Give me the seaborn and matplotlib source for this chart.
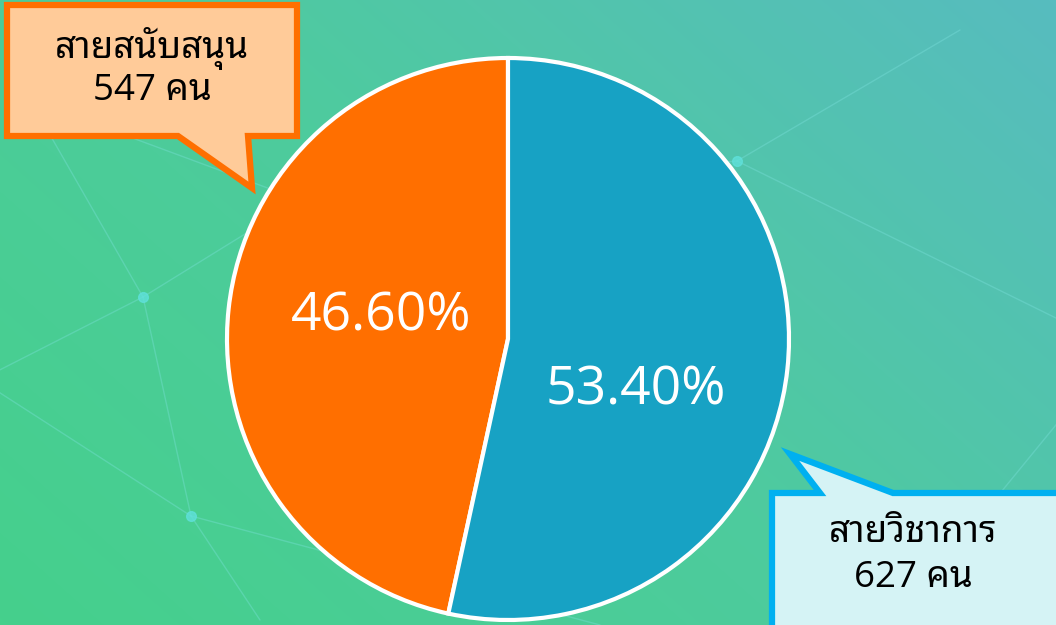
import numpy as np
import matplotlib
matplotlib.use("Agg")
import matplotlib.pyplot as plt
import seaborn as sns
from matplotlib import font_manager
from matplotlib.ft2font import FT2Font
from matplotlib.patches import Polygon
from matplotlib.colors import LinearSegmentedColormap

# ---- data ----
categories = ["สายสนับสนุน", "สายวิชาการ"]
counts = [547, 627]
pct_labels = ["46.60%", "53.40%"]
count_labels = ["547 คน", "627 คน"]
colors = ["#FF6F00", "#17A2C4"]

sns.set_theme(style="white")

# find a font with Thai glyphs
thai_family = None
for f in font_manager.fontManager.ttflist:
    try:
        cm = FT2Font(f.fname).get_charmap()
        if 0x0E2A in cm and 0x0E19 in cm:
            thai_family = f.name
            if "Noto" in f.name:
                break
    except Exception:
        pass
fams = ["Open Sans"] + ([thai_family] if thai_family else []) + ["DejaVu Sans"]
plt.rcParams["font.family"] = fams

W, H = 1056, 625
fig = plt.figure(figsize=(W / 100, H / 100), dpi=100)

# background gradient
bg = fig.add_axes([0, 0, 1, 1])
bg.set_xlim(0, W)
bg.set_ylim(H, 0)
bg.axis("off")
yy, xx = np.mgrid[0:H, 0:W]
t = (xx / W * 0.6 + (H - yy) / H * 0.4)
cmap = LinearSegmentedColormap.from_list("bg", ["#45D08C", "#4ECB9E", "#57BCBF"])
bg.imshow(t, cmap=cmap, extent=[0, W, H, 0], aspect="auto", zorder=0)

# faint network lines (decoration)
nodes = [(143, 297), (191, 516), (737, 161), (-20, 380), (30, 100), (260, 620),
         (300, 200), (1060, 320), (960, 30), (600, 625), (880, 640), (1060, 420)]
edges = [(0, 1), (0, 3), (0, 4), (0, 6), (1, 5), (1, 3), (2, 7), (2, 8), (2, 6),
         (1, 9), (10, 11), (4, 6)]
for a, b in edges:
    bg.plot([nodes[a][0], nodes[b][0]], [nodes[a][1], nodes[b][1]],
            color="#7FE3E0", lw=1.0, alpha=0.35, zorder=1)
for n in nodes[:3]:
    bg.plot(n[0], n[1], "o", ms=7, color="#5FE0DA", alpha=0.8, zorder=1)

# pie
cx, cy, r = 508, 339, 281
ax = fig.add_axes([(cx - r) / W, (H - cy - r) / H, 2 * r / W, 2 * r / H])
ax.pie(counts, colors=colors, startangle=90, counterclock=True,
       wedgeprops=dict(edgecolor="white", linewidth=3))
ax.set_xlim(-1, 1)
ax.set_ylim(-1, 1)
ax.set_aspect("equal")
ax.axis("off")

# overlay for labels/callouts
ov = fig.add_axes([0, 0, 1, 1])
ov.set_xlim(0, W)
ov.set_ylim(H, 0)
ov.axis("off")
ov.patch.set_alpha(0)

ov.text(381, 317, pct_labels[0], color="white", fontsize=38.5, ha="center", va="center")
ov.text(636, 391, pct_labels[1], color="white", fontsize=38.5, ha="center", va="center")

# orange callout
p1 = [(7, 5), (297, 5), (297, 136), (248, 136), (252, 188), (178, 136), (7, 136)]
ov.add_patch(Polygon(p1, closed=True, facecolor="#FFCB99", edgecolor="#FF6F00",
                     linewidth=4.5, joinstyle="miter"))
ov.text(152, 48, categories[0], fontsize=26.5, ha="center", va="center", color="black")
ov.text(152, 91, count_labels[0], fontsize=26.5, ha="center", va="center", color="black")

# blue callout
p2 = [(772, 493), (820, 493), (790, 454), (893, 493), (1062, 493), (1062, 630), (772, 630)]
ov.add_patch(Polygon(p2, closed=True, facecolor="#D5F3F5", edgecolor="#00B0F0",
                     linewidth=4.5, joinstyle="miter"))
ov.text(913, 533, categories[1], fontsize=26.5, ha="center", va="center", color="black")
ov.text(913, 578, count_labels[1], fontsize=26.5, ha="center", va="center", color="black")

fig.savefig("out.png", dpi=100)
